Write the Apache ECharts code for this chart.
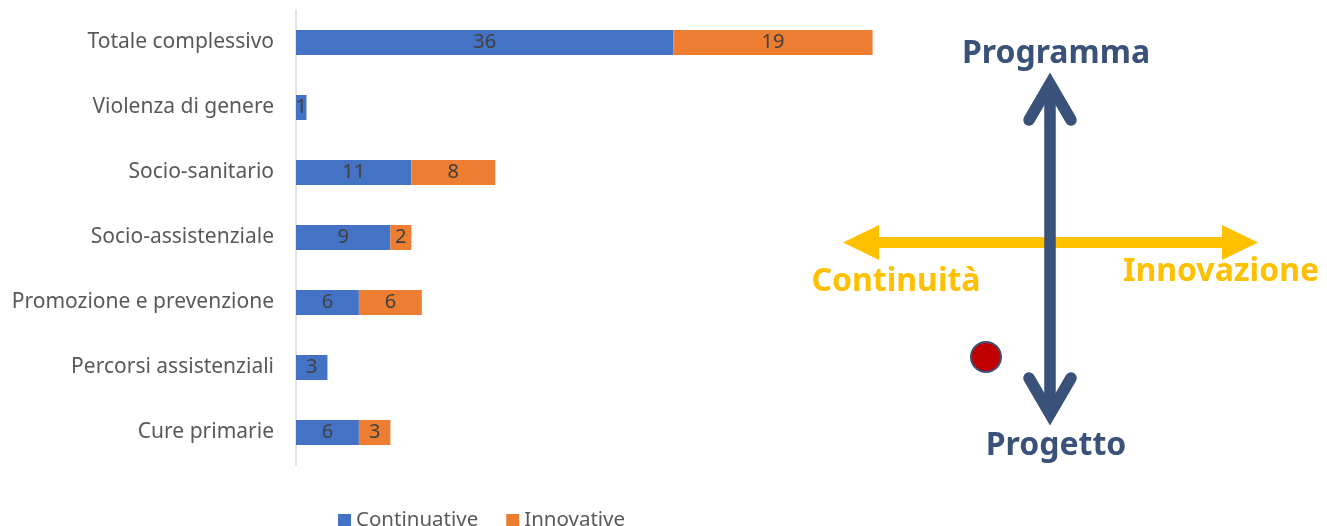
<!DOCTYPE html>
<html><head><meta charset="utf-8">
<script src="https://cdn.jsdelivr.net/npm/echarts@6/dist/echarts.min.js"></script>
<style>html,body{margin:0;padding:0;background:#fff}#c{width:1327px;height:526px}</style>
</head><body><div id="c"></div>
<script>
const categories = ['Cure primarie','Percorsi assistenziali','Promozione e prevenzione','Socio-assistenziale','Socio-sanitario','Violenza di genere','Totale complessivo'];
const continuative = [6, 3, 6, 9, 11, 1, 36];
const innovative = [3, null, 6, 2, 8, null, 19];
const seriesNames = ['Continuative', 'Innovative'];

const FONT = '"Noto Sans", sans-serif';
const BLUE = '#3A5279';
const YELLOW = '#FFC000';
const chart = echarts.init(document.getElementById('c'));
const labelStyle = {show: true, position: 'inside', color: '#404040', fontSize: 20, fontFamily: FONT};
chart.setOption({
  animation: false,
  grid: {left: 296, top: 10, width: 629, height: 455},
  legend: {
    data: seriesNames, top: 505, left: 333, itemWidth: 13, itemHeight: 13, itemGap: 28,
    icon: 'rect', textStyle: {color: '#595959', fontSize: 20.5, fontFamily: FONT}
  },
  xAxis: {type: 'value', min: 0, max: 60, show: false},
  yAxis: {
    type: 'category', data: categories,
    axisLine: {show: true, lineStyle: {color: '#D9D9D9', width: 1.5}},
    axisTick: {show: false},
    axisLabel: {color: '#595959', fontSize: 21, fontFamily: FONT, margin: 22}
  },
  series: [
    {name: seriesNames[0], type: 'bar', stack: 't', data: continuative, barWidth: 25,
     itemStyle: {color: '#4472C4'}, label: labelStyle},
    {name: seriesNames[1], type: 'bar', stack: 't', data: innovative, barWidth: 25,
     itemStyle: {color: '#ED7D31'}, label: labelStyle}
  ],
  graphic: [
    // yellow horizontal arrow
    {type: 'line', shape: {x1: 870, y1: 242.5, x2: 1230, y2: 242.5}, style: {stroke: YELLOW, lineWidth: 11}},
    {type: 'polygon', shape: {points: [[843, 242.5], [879, 225], [879, 260]]}, style: {fill: YELLOW}},
    {type: 'polygon', shape: {points: [[1258, 242.5], [1222, 225], [1222, 260]]}, style: {fill: YELLOW}},
    // blue vertical arrow
    {type: 'line', shape: {x1: 1050, y1: 86, x2: 1050, y2: 412}, style: {stroke: BLUE, lineWidth: 11.5}},
    {type: 'polyline', shape: {points: [[1029, 120], [1050, 84], [1071, 120]]},
     style: {stroke: BLUE, lineWidth: 11.5, lineCap: 'round', lineJoin: 'miter', fill: null}},
    {type: 'polyline', shape: {points: [[1029, 378], [1050, 414], [1071, 378]]},
     style: {stroke: BLUE, lineWidth: 11.5, lineCap: 'round', lineJoin: 'miter', fill: null}},
    // texts
    {type: 'text', x: 1056, y: 54, style: {text: 'Programma', fill: BLUE, font: 'bold 32px ' + FONT, textAlign: 'center', textVerticalAlign: 'middle'}},
    {type: 'text', x: 1056, y: 446, style: {text: 'Progetto', fill: BLUE, font: 'bold 32px ' + FONT, textAlign: 'center', textVerticalAlign: 'middle'}},
    {type: 'text', x: 896, y: 282, style: {text: 'Continuità', fill: YELLOW, font: 'bold 32px ' + FONT, textAlign: 'center', textVerticalAlign: 'middle'}},
    {type: 'text', x: 1221, y: 272, style: {text: 'Innovazione', fill: YELLOW, font: 'bold 32px ' + FONT, textAlign: 'center', textVerticalAlign: 'middle'}},
    // red dot
    {type: 'circle', shape: {cx: 986, cy: 357, r: 15}, style: {fill: '#C00000', stroke: BLUE, lineWidth: 2}}
  ]
});
</script></body></html>
